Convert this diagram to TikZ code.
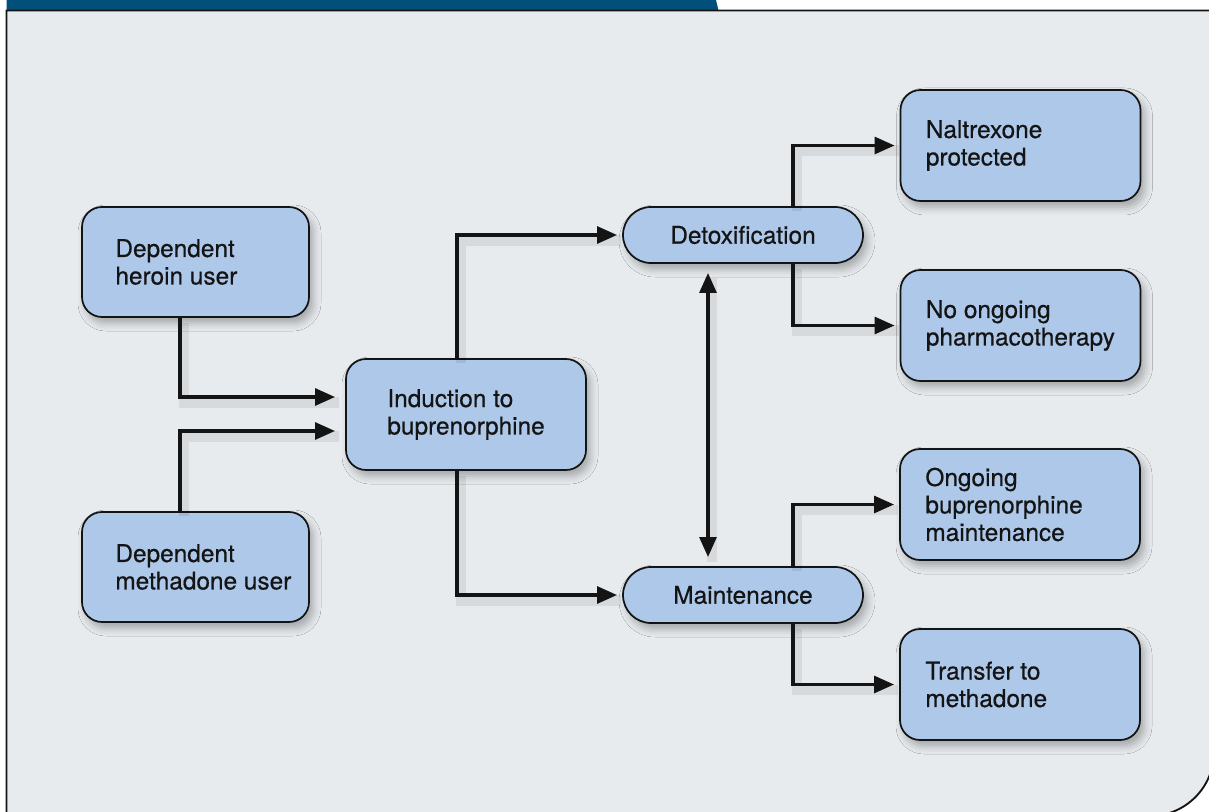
\documentclass[tikz,border=0pt]{standalone}
\usepackage{fontspec}
\setmainfont{TeX Gyre Heros}
\newfontfamily\medfont[FakeBold=0.5]{TeX Gyre Heros}
\usetikzlibrary{arrows.meta,calc,shadows.blur}
\definecolor{bgcol}{HTML}{E7EBEE}
\definecolor{boxcol}{HTML}{ADC8E9}
\definecolor{barcol}{HTML}{00507A}
\definecolor{inkcol}{HTML}{141414}
\begin{document}
\begin{tikzpicture}[x=0.75pt,y=-0.75pt,
  txt/.style={font=\medfont\fontsize{18.3pt}{20.6pt}\selectfont, text=inkcol},
  box/.style={draw=inkcol, line width=1.3pt, fill=boxcol, rounded corners=15pt, inner sep=0pt,
    blur shadow={shadow xshift=3pt, shadow yshift=-4.5pt, shadow blur radius=6pt, shadow opacity=30}},
  bigbox/.style={box, minimum width=180pt, minimum height=83.25pt},
  leftbox/.style={box, minimum width=170.25pt, minimum height=82.5pt},
  pill/.style={box, txt, rounded corners=21pt, minimum width=180pt, minimum height=42pt},
  lbl/.style={txt, inner sep=0pt, align=left},
  arr/.style={draw=inkcol, line width=2.8pt, -{Triangle[length=15pt,width=12.5pt]},
    preaction={draw=black, draw opacity=0.07, line width=8pt, -, transform canvas={xshift=3pt, yshift=-4pt}}}
]
\useasboundingbox (0,0) rectangle (1209,812);
\fill[white] (0,0) rectangle (1209,812);
% frame
\fill[bgcol] (6.5,10.5) -- (1214,10.5) -- (1214,752) .. controls (1214,787.3) and (1185.3,816) .. (1150,816) -- (6.5,816) -- cycle;
\fill[barcol] (6.5,0) -- (716,0) -- (718.5,10.5) -- (6.5,10.5) -- cycle;
\draw[inkcol, line width=1.4pt] (6.5,830) -- (6.5,10.5) -- (1214,10.5) -- (1214,752) .. controls (1214,787.3) and (1185.3,816) .. (1150,816) -- (6.5,816);

% boxes
\node[leftbox] (heroin) at (195.5,262) {};
\node[lbl, anchor=west] (heroin-l) at ($(heroin.west)+(34,0)$) {Dependent\\heroin user};
\node[leftbox] (methadone) at (195.5,567) {};
\node[lbl, anchor=west] (methadone-l) at ($(methadone.west)+(34,0)$) {Dependent\\methadone user};
\node[bigbox] (induction) at (466,414.5) {};
\node[lbl, anchor=west] (induction-l) at ($(induction.west)+(42,0)$) {Induction to\\buprenorphine};
\node[pill] (detox) at (743,235) {Detoxification};
\node[pill] (maint) at (743,595) {Maintenance};
\node[bigbox] (nal) at (1020.5,145.5) {};
\node[lbl, anchor=west] (nal-l) at ($(nal.west)+(26,0)$) {Naltrexone\\protected};
\node[bigbox] (noon) at (1020.5,325.5) {};
\node[lbl, anchor=west] (noon-l) at ($(noon.west)+(26,0)$) {No ongoing\\pharmacotherapy};
\node[bigbox] (ongo) at (1020,504.5) {};
\node[lbl, anchor=west] (ongo-l) at ($(ongo.west)+(26,0)$) {Ongoing\\buprenorphine\\maintenance};
\node[bigbox] (trans) at (1020,684.5) {};
\node[lbl, anchor=west] (trans-l) at ($(trans.west)+(26,0)$) {Transfer to\\methadone};

% connectors
\coordinate (hx) at (180,0);
\coordinate (ix) at (457,0);
\coordinate (bx) at (793,0);
\coordinate (dx) at (708,0);
\draw[arr, shorten >=7.5pt] (hx |- heroin.south) |- ($(induction.west)+(0,-17.5)$);
\draw[arr, shorten >=7.5pt] (hx |- methadone.north) |- ($(induction.west)+(0,16.5)$);
\draw[arr, shorten >=3.75pt] (ix |- induction.north) |- (detox.west);
\draw[arr, shorten >=3.75pt] (ix |- induction.south) |- (maint.west);
\draw[arr, shorten >=3.75pt] (bx |- detox.north) |- (nal.west);
\draw[arr, shorten >=3.75pt] (bx |- detox.south) |- (noon.west);
\draw[arr, shorten >=3.75pt] (bx |- maint.north) |- (ongo.west);
\draw[arr, shorten >=3.75pt] (bx |- maint.south) |- (trans.west);
\draw[arr, {Triangle[length=15pt,width=12.5pt]}-{Triangle[length=15pt,width=12.5pt]}, shorten <=6.75pt, shorten >=6.75pt] (dx |- detox.south) -- (dx |- maint.north);
\end{tikzpicture}
\end{document}
